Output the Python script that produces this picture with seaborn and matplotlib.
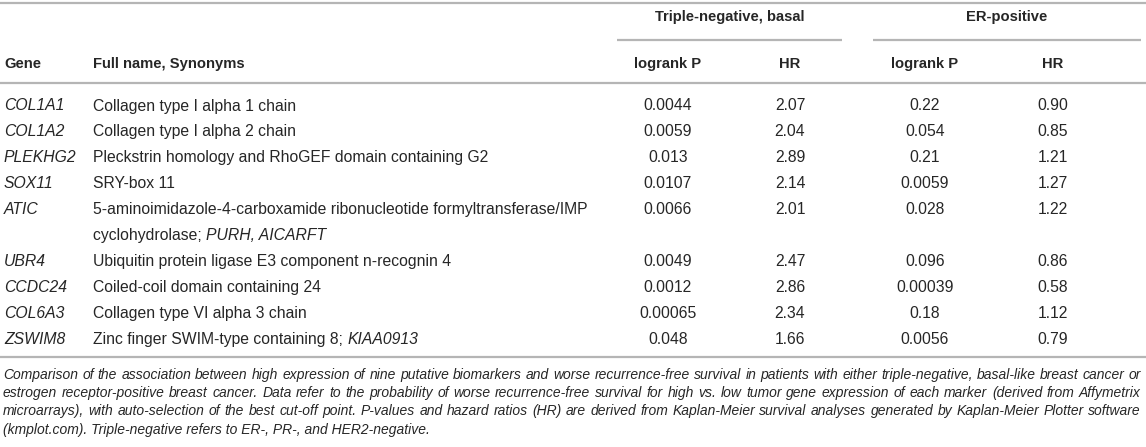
import matplotlib
matplotlib.use("Agg")
import matplotlib.pyplot as plt
import seaborn as sns

# ---------------- data ----------------
genes = ["COL1A1", "COL1A2", "PLEKHG2", "SOX11", "ATIC", "UBR4", "CCDC24", "COL6A3", "ZSWIM8"]
# full names: list of lines, each line a list of (text, italic) segments
full_names = [
    [[("Collagen type I alpha 1 chain", False)]],
    [[("Collagen type I alpha 2 chain", False)]],
    [[("Pleckstrin homology and RhoGEF domain containing G2", False)]],
    [[("SRY-box 11", False)]],
    [[("5-aminoimidazole-4-carboxamide ribonucleotide formyltransferase/IMP", False)],
     [("cyclohydrolase; ", False), ("PURH, AICARFT", True)]],
    [[("Ubiquitin protein ligase E3 component n-recognin 4", False)]],
    [[("Coiled-coil domain containing 24", False)]],
    [[("Collagen type VI alpha 3 chain", False)]],
    [[("Zinc finger SWIM-type containing 8; ", False), ("KIAA0913", True)]],
]
tn_logrank_p = ["0.0044", "0.0059", "0.013", "0.0107", "0.0066", "0.0049", "0.0012", "0.00065", "0.048"]
tn_hr = ["2.07", "2.04", "2.89", "2.14", "2.01", "2.47", "2.86", "2.34", "1.66"]
er_logrank_p = ["0.22", "0.054", "0.21", "0.0059", "0.028", "0.096", "0.00039", "0.18", "0.0056"]
er_hr = ["0.90", "0.85", "1.21", "1.27", "1.22", "0.86", "0.58", "1.12", "0.79"]

group_headers = ["Triple-negative, basal", "ER-positive"]
col_headers = ["Gene", "Full name, Synonyms", "logrank P", "HR", "logrank P", "HR"]

caption_lines = [
    "Comparison of the association between high expression of nine putative biomarkers and worse recurrence-free survival in patients with either triple-negative, basal-like breast cancer or",
    "estrogen receptor-positive breast cancer. Data refer to the probability of worse recurrence-free survival for high vs. low tumor gene expression of each marker (derived from Affymetrix",
    "microarrays), with auto-selection of the best cut-off point. P-values and hazard ratios (HR) are derived from Kaplan-Meier survival analyses generated by Kaplan-Meier Plotter software",
    "(kmplot.com). Triple-negative refers to ER-, PR-, and HER2-negative.",
]

# ---------------- style ----------------
sns.set_theme(style="white")
plt.rcParams["font.family"] = ["Liberation Sans", "DejaVu Sans"]

W, H = 1146, 447
fig = plt.figure(figsize=(W / 100, H / 100), dpi=100)
ax = fig.add_axes([0, 0, 1, 1])
ax.set_xlim(0, W)
ax.set_ylim(H, 0)
ax.axis("off")
renderer = fig.canvas.get_renderer()

TXT = "#262626"
LINE = "#b5b5b5"
FS = 11.3
HFS = 10.6
CFS = 10.0

def hline(x0, x1, y):
    ax.plot([x0, x1], [y, y], color=LINE, lw=1.6, solid_capstyle="butt")

def width_of(t):
    bb = t.get_window_extent(renderer=renderer)
    return bb.width

def segments(x, y, segs, size=FS, color=TXT):
    for s, it in segs:
        t = ax.text(x, y, s, fontsize=size, color=color, style="italic" if it else "normal",
                    ha="left", va="baseline")
        x += width_of(t)

# rules
g1 = (617, 842)
g2 = (873, 1141)
hline(0, W, 3)
hline(*g1, 40)
hline(*g2, 40)
hline(0, W, 83)

# column positions
x_gene, x_name = 4, 93
x_num = [668, 790, 925, 1053]

# headers
ax.text(sum(g1) / 2, 21, group_headers[0], fontsize=HFS, fontweight="bold", color=TXT,
        ha="center", va="baseline")
ax.text(sum(g2) / 2, 21, group_headers[1], fontsize=HFS, fontweight="bold", color=TXT,
        ha="center", va="baseline")
hy = 68
ax.text(x_gene, hy, col_headers[0], fontsize=HFS, fontweight="bold", color=TXT, va="baseline")
ax.text(x_name, hy, col_headers[1], fontsize=HFS, fontweight="bold", color=TXT, va="baseline")
for xc, lab in zip(x_num, col_headers[2:]):
    ax.text(xc, hy, lab, fontsize=HFS, fontweight="bold", color=TXT, ha="center", va="baseline")

# body rows
y = 110.5
step = 25.9
for i, g in enumerate(genes):
    ax.text(x_gene, y, g, fontsize=FS, style="italic", color=TXT, va="baseline")
    for j, line in enumerate(full_names[i]):
        segments(x_name, y + j * step, line)
    for xc, col in zip(x_num, [tn_logrank_p, tn_hr, er_logrank_p, er_hr]):
        ax.text(xc, y, col[i], fontsize=FS, color=TXT, ha="center", va="baseline")
    y += step * len(full_names[i])

hline(0, W, 357)

# caption (justified)
cy = 379
cstep = 18.2
left, right = 3, 1141
for k, line in enumerate(caption_lines):
    words = line.split(" ")
    if k < len(caption_lines) - 1:
        texts = [ax.text(0, cy, w, fontsize=CFS, style="italic", color=TXT, va="baseline")
                 for w in words]
        widths = [width_of(t) for t in texts]
        gap = (right - left - sum(widths)) / (len(words) - 1)
        x = left
        for t, wd in zip(texts, widths):
            t.set_x(x)
            x += wd + gap
    else:
        ax.text(left, cy, line, fontsize=CFS, style="italic", color=TXT, va="baseline")
    cy += cstep

fig.savefig("out.png", dpi=100)
